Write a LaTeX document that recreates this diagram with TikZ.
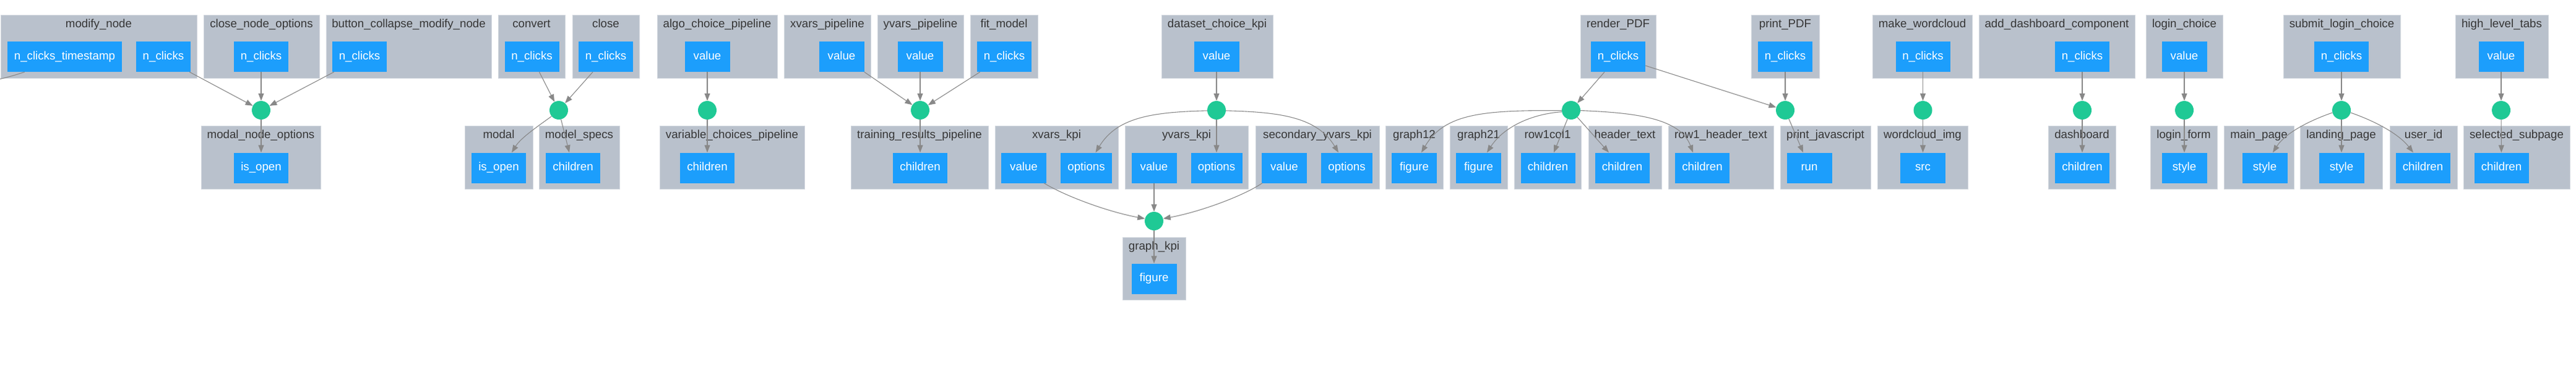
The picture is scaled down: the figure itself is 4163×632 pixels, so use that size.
\documentclass[tikz,border=0pt]{standalone}
\usepackage{fontspec}
\setmainfont{Liberation Sans}
\usetikzlibrary{arrows.meta,calc}
\definecolor{clusterfill}{HTML}{B9C1CC}
\definecolor{clusterline}{HTML}{D3D8DF}
\definecolor{portblue}{HTML}{1C9EFC}
\definecolor{cbgreen}{HTML}{1FC995}
\definecolor{edgegray}{HTML}{888888}
\definecolor{labelgray}{HTML}{363636}
\newcommand\mkcluster[6]{%
  \path[clusterrect] (#2,#4) rectangle (#3,#5);
  \node[clusterlabel] (#1) at ({(#2+#3)/2},{#4+16}) {#6};}
\newcommand\mkport[5]{%
  \node[portbox, minimum width=#4pt] (#1) at (#2,#3) {#5};}
\begin{document}
\begin{tikzpicture}[x=1pt,y=-1pt,
  clusterrect/.style={fill=clusterfill, draw=clusterline, line width=0.8pt},
  clusterlabel/.style={text=labelgray, font=\fontsize{18.7}{22}\selectfont, inner sep=0pt, text height=13.6pt, text depth=4pt},
  portbox/.style={fill=portblue, text=white, font=\fontsize{18.7}{22}\selectfont, minimum height=49pt, inner sep=0pt, text height=13.6pt, text depth=4pt},
  cbdot/.style={circle, fill=cbgreen, minimum size=30pt, inner sep=0pt},
  link/.style={draw=edgegray, line width=1.1pt, -{Triangle[length=12pt,width=9pt]}}]
\useasboundingbox[fill=white] (0,0) rectangle (4163,632);

% ---------- clusters row 1
\mkcluster{k_modify}{1}{318}{24}{126}{modify\_node}
\mkcluster{k_cno}{329}{516}{24}{126}{close\_node\_options}
\mkcluster{k_bcm}{527}{794}{24}{126}{button\_collapse\_modify\_node}
\mkcluster{k_convert}{805}{913}{24}{126}{convert}
\mkcluster{k_close}{925}{1033}{24}{126}{close}
\mkcluster{k_acp}{1062}{1256}{24}{126}{algo\_choice\_pipeline}
\mkcluster{k_xp}{1267}{1407}{24}{126}{xvars\_pipeline}
\mkcluster{k_yp}{1418}{1557}{24}{126}{yvars\_pipeline}
\mkcluster{k_fm}{1568}{1677}{24}{126}{fit\_model}
\mkcluster{k_dck}{1877}{2057}{24}{126}{dataset\_choice\_kpi}
\mkcluster{k_rp}{2554}{2676}{24}{126}{render\_PDF}
\mkcluster{k_pp}{2830}{2940}{24}{126}{print\_PDF}
\mkcluster{k_mw}{3026}{3187}{24}{126}{make\_wordcloud}
\mkcluster{k_adc}{3198}{3450}{24}{126}{add\_dashboard\_component}
\mkcluster{k_lc}{3468}{3592}{24}{126}{login\_choice}
\mkcluster{k_slc}{3690}{3879}{24}{126}{submit\_login\_choice}
\mkcluster{k_hlt}{3968}{4118}{24}{126}{high\_level\_tabs}

% ---------- clusters row 2
\mkcluster{k_mno}{325}{518}{203}{305}{modal\_node\_options}
\mkcluster{k_modal}{751}{861}{203}{305}{modal}
\mkcluster{k_ms}{871}{1001}{203}{305}{model\_specs}
\mkcluster{k_vcp}{1066}{1300}{203}{305}{variable\_choices\_pipeline}
\mkcluster{k_trp}{1375}{1597}{203}{305}{training\_results\_pipeline}
\mkcluster{k_xk}{1608}{1807}{203}{305}{xvars\_kpi}
\mkcluster{k_yk}{1818}{2017}{203}{305}{yvars\_kpi}
\mkcluster{k_sk}{2029}{2229}{203}{305}{secondary\_yvars\_kpi}
\mkcluster{k_g12}{2239}{2332}{203}{305}{graph12}
\mkcluster{k_g21}{2343}{2436}{203}{305}{graph21}
\mkcluster{k_r11}{2447}{2555}{203}{305}{row1col1}
\mkcluster{k_ht}{2567}{2685}{203}{305}{header\_text}
\mkcluster{k_rht}{2696}{2866}{203}{305}{row1\_header\_text}
\mkcluster{k_pj}{2877}{3023}{203}{305}{print\_javascript}
\mkcluster{k_wi}{3034}{3180}{203}{305}{wordcloud\_img}
\mkcluster{k_db}{3310}{3419}{203}{305}{dashboard}
\mkcluster{k_lf}{3475}{3583}{203}{305}{login\_form}
\mkcluster{k_mp}{3594}{3707}{203}{305}{main\_page}
\mkcluster{k_lp}{3717}{3850}{203}{305}{landing\_page}
\mkcluster{k_ui}{3862}{3971}{203}{305}{user\_id}
\mkcluster{k_ss}{3981}{4153}{203}{305}{selected\_subpage}

% ---------- cluster row 3
\mkcluster{k_gk}{1814}{1916}{383}{484}{graph\_kpi}

% ---------- ports row 1
\mkport{mn_ts}{104.5}{91.5}{185}{n\_clicks\_timestamp}
\mkport{mn_nc}{264}{91.5}{88}{n\_clicks}
\mkport{cno_nc}{422}{91.5}{88}{n\_clicks}
\mkport{bcm_nc}{581}{91.5}{88}{n\_clicks}
\mkport{cv_nc}{859.5}{91.5}{88}{n\_clicks}
\mkport{cl_nc}{979}{91.5}{88}{n\_clicks}
\mkport{acp_v}{1143}{91.5}{73}{value}
\mkport{xp_v}{1360}{91.5}{73}{value}
\mkport{yp_v}{1487}{91.5}{73}{value}
\mkport{fm_nc}{1623}{91.5}{88}{n\_clicks}
\mkport{dck_v}{1966}{91.5}{73}{value}
\mkport{rp_nc}{2615}{91.5}{88}{n\_clicks}
\mkport{pp_nc}{2885}{91.5}{88}{n\_clicks}
\mkport{mw_nc}{3107.5}{91.5}{88}{n\_clicks}
\mkport{adc_nc}{3365}{91.5}{88}{n\_clicks}
\mkport{lc_v}{3530}{91.5}{73}{value}
\mkport{slc_nc}{3784}{91.5}{88}{n\_clicks}
\mkport{hlt_v}{4042}{91.5}{73}{value}

% ---------- ports row 2
\mkport{mno_io}{422}{271}{88}{is\_open}
\mkport{md_io}{806}{271}{88}{is\_open}
\mkport{ms_ch}{926}{271}{88}{children}
\mkport{vcp_ch}{1143}{271}{88}{children}
\mkport{trp_ch}{1487}{271}{88}{children}
\mkport{xk_v}{1654.5}{271}{73}{value}
\mkport{xk_o}{1755.5}{271}{83}{options}
\mkport{yk_v}{1865}{271}{73}{value}
\mkport{yk_o}{1966}{271}{83}{options}
\mkport{sk_v}{2075.5}{271}{73}{value}
\mkport{sk_o}{2176.5}{271}{83}{options}
\mkport{g12_f}{2285.5}{271}{73}{figure}
\mkport{g21_f}{2389.5}{271}{73}{figure}
\mkport{r11_ch}{2501.5}{271}{88}{children}
\mkport{ht_ch}{2621.5}{271}{88}{children}
\mkport{rht_ch}{2751}{271}{88}{children}
\mkport{pj_run}{2924}{271}{73}{run}
\mkport{wi_src}{3107.5}{271}{73}{src}
\mkport{db_ch}{3365}{271}{88}{children}
\mkport{lf_st}{3530}{271}{73}{style}
\mkport{mp_st}{3660}{271}{73}{style}
\mkport{lp_st}{3784}{271}{73}{style}
\mkport{ui_ch}{3915.5}{271}{88}{children}
\mkport{ss_ch}{4042.5}{271}{88}{children}

% ---------- port row 3
\mkport{gk_f}{1865}{450}{73}{figure}

% ---------- callback dots
\node[cbdot] (c1) at (422,178) {};
\node[cbdot] (c2) at (903,178) {};
\node[cbdot] (c3) at (1143,178) {};
\node[cbdot] (c4) at (1487,178) {};
\node[cbdot] (c5) at (1966,178) {};
\node[cbdot] (c6) at (2539,178) {};
\node[cbdot] (c7) at (2885,178) {};
\node[cbdot] (c8) at (3107.5,178) {};
\node[cbdot] (c9) at (3365,178) {};
\node[cbdot] (c10) at (3530,178) {};
\node[cbdot] (c11) at (3784,178) {};
\node[cbdot] (c12) at (4042,178) {};
\node[cbdot] (c13) at (1865,357) {};
\coordinate (offleft) at (-40,136);

% ---------- connectors
\draw[link,-] ($(mn_ts.south west)+(28,0)$) .. controls (25,121) and (8,127) .. (offleft);
\draw[link] ($(mn_nc.south east)+(-2,0)$) -- (c1);
\draw[link] (cno_nc) -- (c1);
\draw[link] ($(bcm_nc.south west)+(3,0)$) -- (c1);
\draw[link] (c1) -- (mno_io);

\draw[link] ($(cv_nc.south)+(12,0)$) -- (c2);
\draw[link] ($(cl_nc.south)+(-21,0)$) -- (c2);
\draw[link] (c2.220) .. controls (872,202) and (842,222) .. ($(md_io.north)+(21,0)$);
\draw[link] (c2) -- ($(ms_ch.north)+(-6,0)$);

\draw[link] (acp_v) -- (c3);
\draw[link] (c3) -- (vcp_ch);

\draw[link] (xp_v.south east) -- (c4);
\draw[link] (yp_v) -- (c4);
\draw[link] ($(fm_nc.south west)+(5,0)$) -- (c4);
\draw[link] (c4) -- (trp_ch);

\draw[link] (dck_v) -- (c5);
\draw[link] (c5) -- (yk_o);
\draw[link] (c5.183) .. controls (1860,181) and (1805,190) .. ($(xk_o.north)+(15,0)$);
\draw[link] (c5.-3) .. controls (2072,181) and (2129,190) .. ($(sk_o.north)+(-13.5,0)$);

\draw[link] (yk_v) -- (c13);
\draw[link] ($(xk_v.south east)+(-4,0)$) .. controls (1720,316) and (1790,342) .. (c13.165);
\draw[link] ($(sk_v.south west)+(1,0)$) .. controls (2010,316) and (1940,342) .. (c13.15);
\draw[link] (c13) -- (gk_f);

\draw[link] ($(rp_nc.south)+(-22,0)$) -- (c6);
\draw[link] ($(rp_nc.east)+(0,14.5)$) -- (c7);
\draw[link] (c6.182) .. controls (2400,178) and (2335,182) .. ($(g12_f.north)+(11.5,0)$);
\draw[link] (c6.190) .. controls (2475,184) and (2430,205) .. ($(g21_f.north)+(13.5,0)$);
\draw[link] (c6) -- ($(r11_ch.north)+(9.5,0)$);
\draw[link] (c6) -- ($(ht_ch.north)+(-21.5,0)$);
\draw[link] (c6.-2) .. controls (2640,182) and (2715,190) .. ($(rht_ch.north)+(-15,0)$);

\draw[link] (pp_nc) -- (c7);
\draw[link] (c7) -- ($(pj_run.north)+(-10,0)$);

\draw[link] (mw_nc) -- (c8);
\draw[link] (c8) -- (wi_src);
\draw[link] (adc_nc) -- (c9);
\draw[link] (c9) -- (db_ch);
\draw[link] (lc_v) -- (c10);
\draw[link] (c10) -- (lf_st);
\draw[link] (slc_nc) -- (c11);
\draw[link] (c11) -- (lp_st);
\draw[link] (c11.195) .. controls (3740,192) and (3695,212) .. ($(mp_st.north)+(13,0)$);
\draw[link] (c11.-15) .. controls (3828,192) and (3873,212) .. ($(ui_ch.north)+(-15.5,0)$);
\draw[link] (hlt_v) -- (c12);
\draw[link] (c12) -- (ss_ch);
\end{tikzpicture}
\end{document}
